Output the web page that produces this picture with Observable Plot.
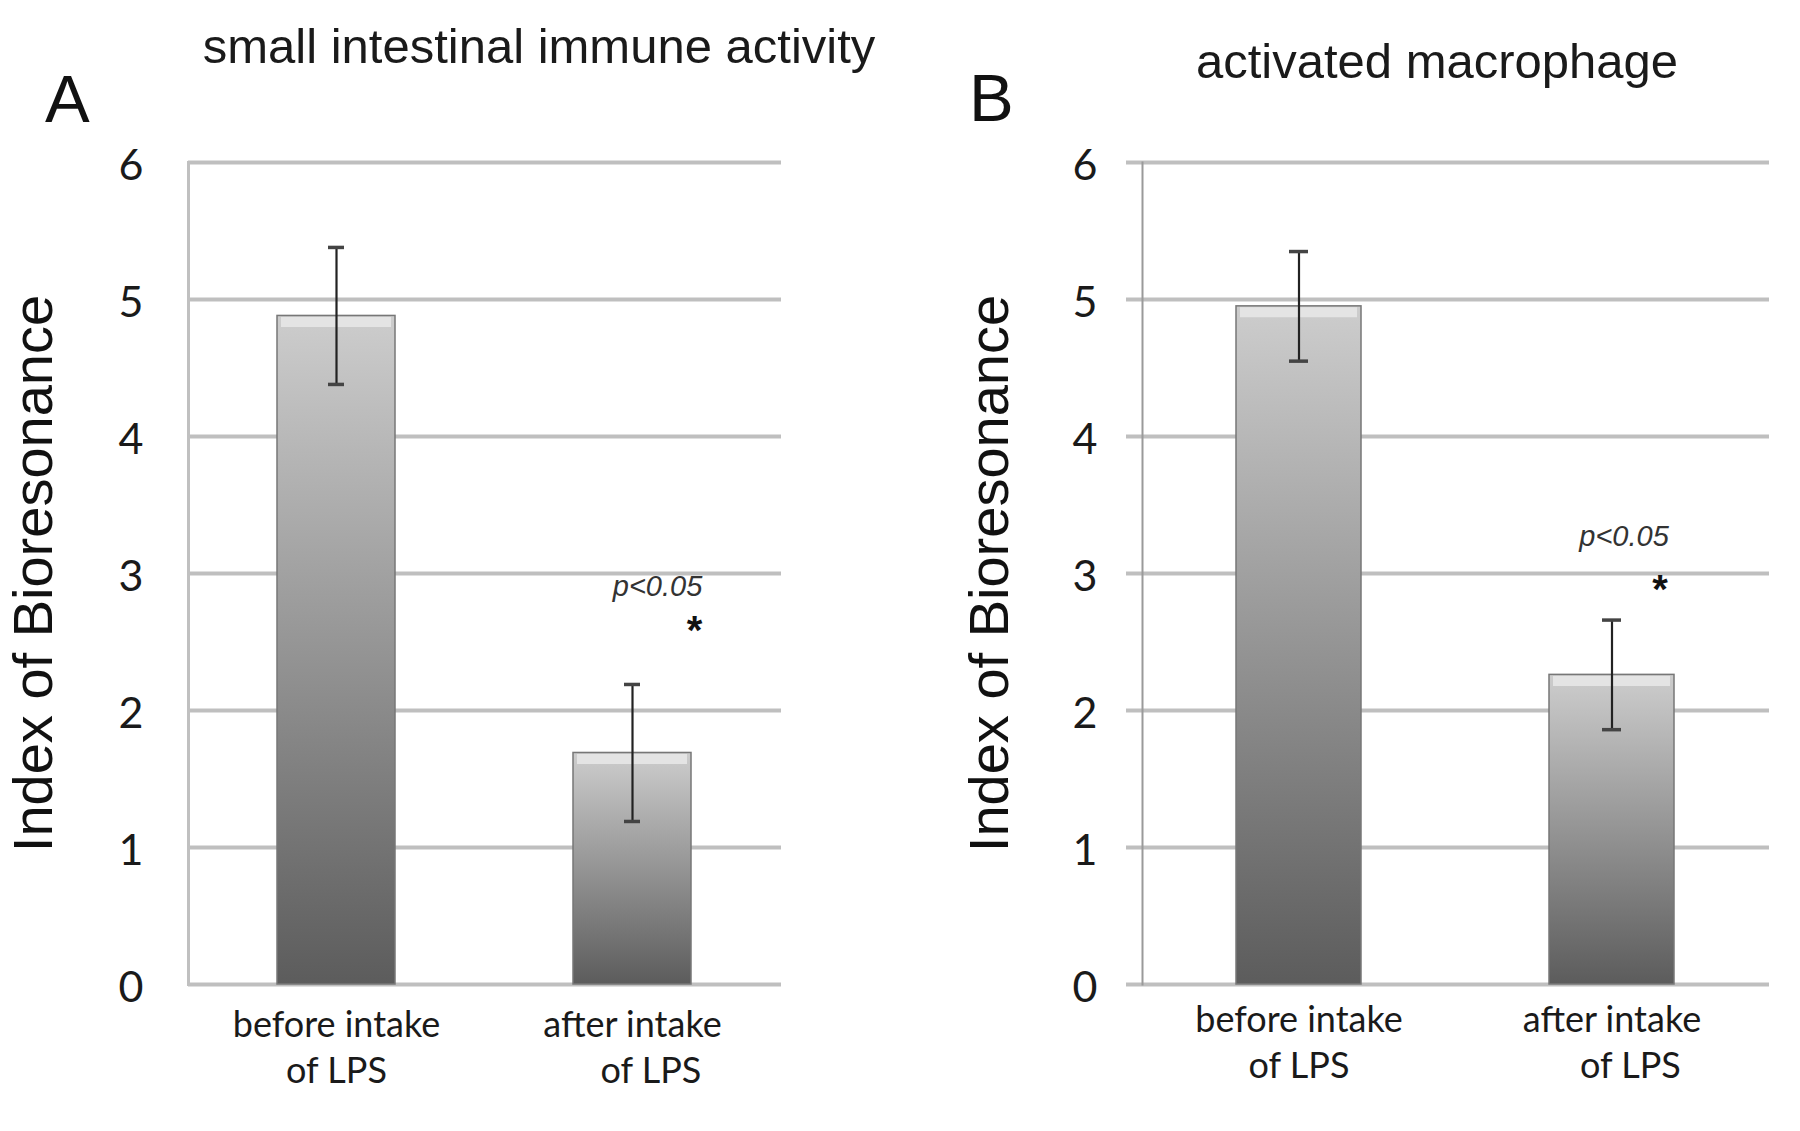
<!DOCTYPE html>
<html><head><meta charset="utf-8">
<script src="https://cdn.jsdelivr.net/npm/d3@7"></script>
<script src="https://cdn.jsdelivr.net/npm/@observablehq/plot@0.6"></script>
<style>
body{margin:0;background:#fff;}
#wrap{position:relative;width:1800px;height:1131px;background:#fff;overflow:hidden;}
.panel{position:absolute;top:0;}
.title{position:absolute;font-family:"Liberation Sans",Arial,sans-serif;font-size:49px;line-height:49px;color:#1a1a1a;white-space:nowrap;text-align:center;width:900px;}
.letter{position:absolute;font-family:"Liberation Sans",Arial,sans-serif;font-size:67px;line-height:67px;color:#111;}
svg text{white-space:pre;}
</style></head>
<body>
<svg width="0" height="0" style="position:absolute">
<defs>
<linearGradient id="barGrad" x1="0" y1="0" x2="0" y2="1">
 <stop offset="0" stop-color="#cdcdcd"/>
 <stop offset="1" stop-color="#5c5c5c"/>
</linearGradient>
</defs></svg>
<div id="wrap"></div>
<script>
// ---- data ----
const categories = ["before", "after"];
const xLabels = ["before intake\nof LPS", "after intake\n    of LPS"];
const yTicks = [0, 1, 2, 3, 4, 5, 6];
const yLabel = "Index of Bioresonance";
const panelTitles = ["small intestinal immune activity", "activated macrophage"];
const panelLetters = ["A", "B"];
const meansA = [4.88, 1.69];
const errorsA = [0.5, 0.5];
const meansB = [4.95, 2.26];
const errorsB = [0.4, 0.4];
const pText = "p<0.05";
const starText = "*";
const sigA = {cat: "after", pY: 2.9, starY: 2.58};
const sigB = {cat: "after", pY: 3.27, starY: 2.88};

// ---- layout ----
const wrap = document.getElementById("wrap");

function addDiv(cls, text, left, top) {
  const d = document.createElement("div");
  d.className = cls; d.textContent = text;
  d.style.left = left + "px"; d.style.top = top + "px";
  wrap.appendChild(d);
}

function panel(o) {
  const data = categories.map((c, i) => ({cat: c, label: xLabels[i], value: o.means[i], err: o.errs[i]}));
  return Plot.plot({
    width: 900, height: 1131,
    marginTop: 162, marginBottom: 147, marginLeft: o.ml, marginRight: o.mr,
    style: {background: "transparent", fontFamily: "Lato, sans-serif", overflow: "visible"},
    x: {domain: categories, paddingInner: 0.6, paddingOuter: 0.3, axis: null},
    y: {domain: [0, 6], axis: null},
    marks: [
      Plot.ruleY(yTicks, {stroke: "#bfbfbf", strokeWidth: 4, insetLeft: o.gridInset}),
      Plot.frame({anchor: "left", stroke: o.axisColor, strokeWidth: o.axisWidth}),
      Plot.barY(data, {x: "cat", y: "value", fill: "url(#barGrad)", stroke: "#777", strokeWidth: 1.5}),
      Plot.tickY(data, {x: "cat", y: "value", stroke: "#e4e4e4", strokeWidth: 10, dy: 6, insetLeft: 4, insetRight: 4}),
      Plot.ruleX(data, {x: "cat", y1: d => d.value - d.err, y2: d => d.value + d.err, stroke: "#222", strokeWidth: 2.2}),
      Plot.tickY(data, {x: "cat", y: d => d.value - d.err, stroke: "#444", strokeWidth: 3.5, insetLeft: o.capInset, insetRight: o.capInset}),
      Plot.tickY(data, {x: "cat", y: d => d.value + d.err, stroke: "#444", strokeWidth: 3.5, insetLeft: o.capInset, insetRight: o.capInset}),
      Plot.axisY({ticks: yTicks, tickSize: 0, tickPadding: 45, fontSize: 43, dy: 4, tickFormat: d => String(d), label: null, fill: "#1a1a1a"}),
      Plot.text(data, {x: "cat", text: "label", frameAnchor: "bottom", lineAnchor: "top", dy: o.xlabDy, fontSize: 36, lineHeight: 1.28, fill: "#1a1a1a"}),
      Plot.text([yLabel], {frameAnchor: "left", rotate: -90, textAnchor: "middle", lineAnchor: "middle", dx: o.ylabDx, fontSize: 56, fontFamily: "Liberation Sans, Arial, sans-serif", fill: "#111"}),
      Plot.text([o.sig], {x: "cat", y: "pY", text: () => pText, dx: o.pDx, fontSize: 29, fontStyle: "italic", fontFamily: "Liberation Sans, Arial, sans-serif", fill: "#333"}),
      Plot.text([o.sig], {x: "cat", y: "starY", text: () => starText, dx: o.starDx, fontSize: 40, fontWeight: "bold", fontFamily: "Liberation Sans, Arial, sans-serif", fill: "#111"})
    ]
  });
}

const pA = panel({means: meansA, errs: errorsA, ml: 188, mr: 119, gridInset: 0, axisColor: "#c0c0c0", axisWidth: 3,
  capInset: 51, xlabDy: 20, ylabDx: -154, sig: sigA, pDx: 25, starDx: 62});
const pB = panel({means: meansB, errs: errorsB, ml: 242, mr: 31, gridInset: -16, axisColor: "#9a9a9a", axisWidth: 2,
  capInset: 53, xlabDy: 15, ylabDx: -152, sig: sigB, pDx: 12, starDx: 48});

[pA, pB].forEach((p, i) => {
  const holder = document.createElement("div");
  holder.className = "panel";
  holder.style.left = (i * 900) + "px";
  holder.appendChild(p);
  wrap.appendChild(holder);
});

addDiv("title", panelTitles[0], 89, 22);
addDiv("title", panelTitles[1], 987, 37);
addDiv("letter", panelLetters[0], 45, 65);
addDiv("letter", panelLetters[1], 969, 64);
</script>
</body></html>
